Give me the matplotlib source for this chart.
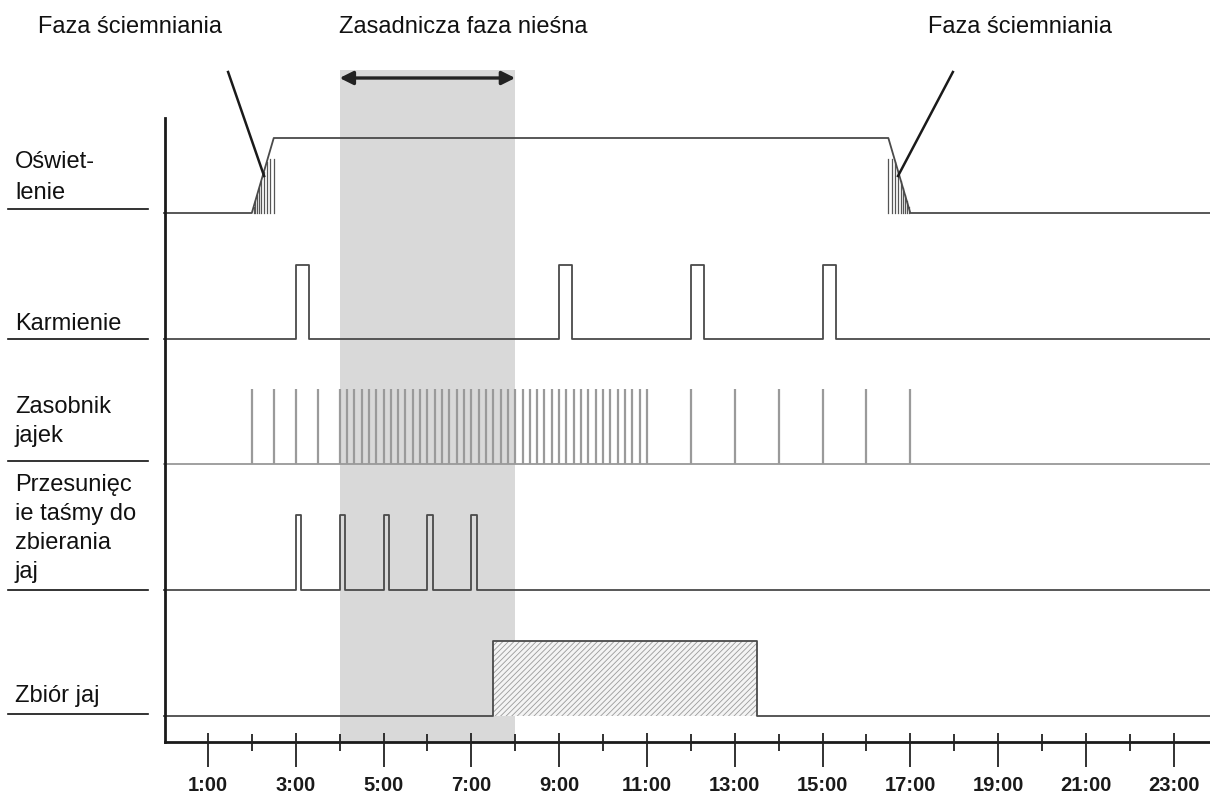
import matplotlib
matplotlib.use("Agg")
import matplotlib.pyplot as plt
import numpy as np

# ---------------- data (hours of day) ----------------
hour_ticks_major = [1, 3, 5, 7, 9, 11, 13, 15, 17, 19, 21, 23]
hour_ticks_minor = [2, 4, 6, 8, 10, 12, 14, 16, 18, 20, 22]
tick_labels = ["1:00", "3:00", "5:00", "7:00", "9:00", "11:00",
               "13:00", "15:00", "17:00", "19:00", "21:00", "23:00"]

light_t = [0.0, 2.0, 2.5, 16.5, 17.0, 24.0]
light_v = [0, 0, 1, 1, 0, 0]
dim_on_frac = [0.08, 0.16, 0.24, 0.33, 0.43, 0.55, 0.68, 0.83, 1.0]   # dimming hatch positions along ramp

feed_starts = [3.0, 9.0, 12.0, 15.0]
feed_duration = 0.3

hopper_times_str = ["2:00", "2:30", "3:00", "3:30",
                    "4:00", "4:10", "4:20", "4:30", "4:40", "4:50",
                    "5:00", "5:10", "5:20", "5:30", "5:40", "5:50",
                    "6:00", "6:10", "6:20", "6:30", "6:40", "6:50",
                    "7:00", "7:10", "7:20", "7:30", "7:40", "7:50",
                    "8:00", "8:10", "8:20", "8:30", "8:40", "8:50",
                    "9:00", "9:10", "9:20", "9:30", "9:40", "9:50",
                    "10:00", "10:10", "10:20", "10:30", "10:40", "10:50",
                    "11:00",
                    "12:00", "13:00", "14:00", "15:00", "16:00", "17:00"]

belt_starts = [3.0, 4.0, 5.0, 6.0, 7.0]
belt_duration = 0.12

collect_start = 7.5
collect_end = 13.5

main_phase = (4.0, 8.0)

row_labels = [["Oświet-", "lenie"],
              ["Karmienie"],
              ["Zasobnik", "jajek"],
              ["Przesunięc", "ie taśmy do", "zbierania", "jaj"],
              ["Zbiór jaj"]]

top_labels = ["Faza ściemniania", "Zasadnicza faza nieśna", "Faza ściemniania"]

# ---------------- layout (pixel based vertical positions) ----------------
W, H = 1210, 794
PX_PER_H = 43.9
X0 = 164.0
row_base = [213, 339, 464, 590, 716]
row_high = [138, 265, 389, 515, 641]
sep_y = [209, 339, 461, 590, 714]
label_baselines = [[168, 199], [330], [413, 442], [491, 520, 549, 578], [702]]
axis_y = 742
axis_top = 118

def to_h(s):
    h, m = s.split(":")
    return int(h) + int(m) / 60.0

hopper_times = [to_h(s) for s in hopper_times_str]

def lvl(row, v):
    return row_base[row] + (row_high[row] - row_base[row]) * np.asarray(v, dtype=float)

def pulses(starts, dur, end=24.0):
    t, v = [0.0], [0]
    for s in starts:
        t += [s, s, s + dur, s + dur]
        v += [0, 1, 1, 0]
    t.append(end); v.append(0)
    return t, v

plt.rcParams['font.family'] = ['Liberation Sans', 'DejaVu Sans']
plt.rcParams['hatch.color'] = "#9a9a9a"
plt.rcParams['hatch.linewidth'] = 0.6
fig = plt.figure(figsize=(W / 100, H / 100), dpi=100)
ax = fig.add_axes([0, 0, 1, 1])
ax.set_xlim(-X0 / PX_PER_H, (W - X0) / PX_PER_H)
ax.set_ylim(H, 0)
ax.axis("off")

line_col = "#4a4a4a"
lw = 1.3

# main laying phase band
ax.fill_between(main_phase, 70, axis_y, color="#d9d9d9", lw=0, zorder=0)
ax.annotate("", xy=(main_phase[1], 78), xytext=(main_phase[0], 78),
            arrowprops=dict(arrowstyle="<|-|>", color="#222222", lw=2.4,
                            mutation_scale=20, shrinkA=0, shrinkB=0))

# lighting
ax.plot(light_t, lvl(0, light_v), color=line_col, lw=lw, zorder=3)
on0, on1 = light_t[1], light_t[2]
off0, off1 = light_t[3], light_t[4]
for f in dim_on_frac:
    x = on0 + f * (on1 - on0)
    ax.plot([x, x], [row_base[0], lvl(0, min(f, 0.72))], color="#555555", lw=0.9, zorder=2)
    x2 = off1 - f * (off1 - off0)
    ax.plot([x2, x2], [row_base[0], lvl(0, min(f, 0.72))], color="#555555", lw=0.9, zorder=2)

# pointer lines
ax.plot([1.46, 2.28], [72, 176], color="#1a1a1a", lw=1.8, zorder=4)
ax.plot([17.97, 16.72], [72, 176], color="#1a1a1a", lw=1.8, zorder=4)

# feeding
t, v = pulses(feed_starts, feed_duration)
ax.plot(t, lvl(1, v), color=line_col, lw=lw, zorder=3)

# egg hopper
ax.plot([0, 24], [row_base[2]] * 2, color="#999999", lw=1.3, zorder=3)
ax.vlines(hopper_times, row_high[2], row_base[2], color="#9a9a9a", lw=1.6, zorder=3)

# belt moves
t, v = pulses(belt_starts, belt_duration)
ax.plot(t, lvl(3, v), color=line_col, lw=lw, zorder=3, solid_joinstyle="round")

# egg collection
ax.fill_between([collect_start, collect_end], row_base[4], row_high[4],
                facecolor="#f4f4f4", edgecolor="#9a9a9a", hatch="//////", lw=0, zorder=2)
ax.plot([0, collect_start, collect_start, collect_end, collect_end, 24],
        [row_base[4], row_base[4], row_high[4], row_high[4], row_base[4], row_base[4]],
        color=line_col, lw=lw, zorder=3)

# axes
ax.plot([0.02, 0.02], [axis_top, axis_y], color="#1a1a1a", lw=2.0, zorder=5)
ax.plot([0.02, 24], [axis_y, axis_y], color="#1a1a1a", lw=2.0, zorder=5)
ax.vlines(hour_ticks_major, 733, 767, color="#222222", lw=1.3, zorder=5)
ax.vlines(hour_ticks_minor, 734, 751, color="#222222", lw=1.3, zorder=5)
for h, lab in zip(hour_ticks_major, tick_labels):
    ax.text(h, 791, lab, ha="center", va="baseline", fontsize=14.5,
            fontweight="bold", color="#1a1a1a")

# row labels and separators
for r, lines in enumerate(row_labels):
    for txt, yb in zip(lines, label_baselines[r]):
        ax.text(-X0 / PX_PER_H + 15 / PX_PER_H, yb, txt, ha="left", va="baseline",
                fontsize=17, color="#111111")
    ax.plot([-X0 / PX_PER_H + 8 / PX_PER_H, -X0 / PX_PER_H + 148 / PX_PER_H],
            [sep_y[r], sep_y[r]], color="#111111", lw=1.2)

# top labels
top_x = [130, 463, 1020]
for txt, xp in zip(top_labels, top_x):
    ax.text((xp - X0) / PX_PER_H, 33, txt, ha="center", va="baseline",
            fontsize=17, color="#111111")

fig.savefig("out.png", dpi=100)
